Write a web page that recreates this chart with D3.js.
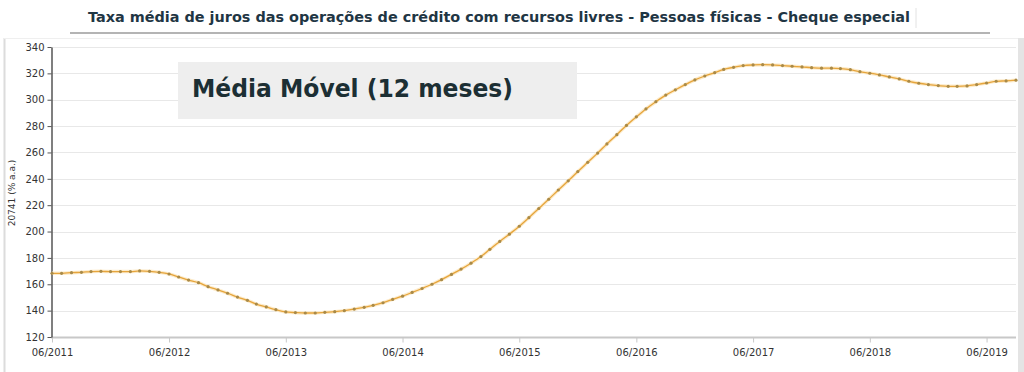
<!DOCTYPE html>
<html>
<head>
<meta charset="utf-8">
<script src="https://cdn.jsdelivr.net/npm/d3@7"></script>
<style>
  html, body { margin: 0; padding: 0; background: #fff; }
  svg { display: block; }
</style>
</head>
<body>
<svg id="chart" width="1024" height="372"></svg>
<script>
'use strict';

// Média móvel de 12 meses, mensal, 06/2011 a 09/2019 (% a.a.)
var START_MONTH = new Date(2011, 5, 1);
var VALUES = [
  168.3, 168.3, 168.8, 169.1, 169.6, 169.8, 169.6, 169.6, 169.6, 170.1, 169.8, 169.1,
  167.8, 165.5, 163.2, 161.2, 158.2, 155.7, 153.2, 150.3, 147.8, 145.0, 142.8, 140.7,
  139.0, 138.5, 138.2, 138.2, 138.7, 139.2, 140.0, 141.2, 142.5, 144.0, 146.0, 148.5,
  151.0, 153.8, 156.8, 160.0, 163.5, 167.5, 171.5, 176.0, 181.0, 186.5, 192.5, 198.0,
  204.0, 210.5, 217.5, 224.5, 231.5, 238.5, 245.5, 252.5, 259.5, 266.5, 273.5, 280.5,
  287.0, 293.0, 298.5, 303.5, 307.5, 311.5, 315.0, 318.0, 320.5, 323.0, 324.6, 325.9,
  326.4, 326.6, 326.4, 325.9, 325.4, 324.9, 324.3, 323.9, 323.9, 323.6, 322.8, 321.3,
  320.1, 318.8, 317.3, 315.8, 314.0, 312.5, 311.5, 310.7, 310.2, 310.2, 310.5, 311.5,
  312.7, 314.0, 314.3, 314.8
];
var Y_TICKS = [120, 140, 160, 180, 200, 220, 240, 260, 280, 300, 320, 340];
var X_TICKS = ['06/2011', '06/2012', '06/2013', '06/2014', '06/2015', '06/2016', '06/2017', '06/2018', '06/2019'];

var TITLE = 'Taxa média de juros das operações de crédito com recursos livres - Pessoas físicas - Cheque especial';
var NOTE = 'Média Móvel (12 meses)';
var Y_LABEL = '20741 (% a.a.)';

(function draw() {
  var svg = d3.select('#chart');
  var font = '"DejaVu Sans", Verdana, sans-serif';
  var parse = d3.timeParse('%m/%Y');

  var data = VALUES.map(function (v, i) {
    return { date: d3.timeMonth.offset(START_MONTH, i), value: v };
  });

  var plot = { left: 51, right: 1016, top: 47, bottom: 337 };
  var x = d3.scaleTime()
    .domain([START_MONTH, d3.timeMonth.offset(START_MONTH, VALUES.length - 1)])
    .range([52, plot.right]);
  var y = d3.scaleLinear().domain([120, 340]).range([plot.bottom, plot.top]);

  // header
  svg.append('text')
    .attr('x', 88).attr('y', 22)
    .attr('textLength', 822).attr('lengthAdjust', 'spacingAndGlyphs')
    .style('font-family', font).style('font-weight', 'bold').style('font-size', '13.5px')
    .style('fill', '#1f3644')
    .text(TITLE);
  svg.append('line')
    .attr('x1', 70).attr('x2', 990).attr('y1', 33).attr('y2', 33)
    .style('stroke', '#b4b4b4').style('stroke-width', 2);
  svg.append('line')
    .attr('x1', 916).attr('x2', 916).attr('y1', 8).attr('y2', 28)
    .style('stroke', '#e2e2e2').style('stroke-width', 1);

  // panel frame
  svg.append('line').attr('x1', 4.5).attr('x2', 4.5).attr('y1', 38).attr('y2', 372)
    .style('stroke', '#dcdcdc').style('stroke-width', 2);
  svg.append('line').attr('x1', 4).attr('x2', 1018).attr('y1', 38.5).attr('y2', 38.5)
    .style('stroke', '#efefef').style('stroke-width', 1);
  svg.append('rect').attr('x', 1018).attr('y', 38).attr('width', 6).attr('height', 334)
    .style('fill', '#e4e4e4');

  // gridlines
  svg.append('g').selectAll('line').data(Y_TICKS.slice(1)).enter().append('line')
    .attr('x1', plot.left).attr('x2', plot.right)
    .attr('y1', function (d) { return Math.round(y(d)) + 0.5; })
    .attr('y2', function (d) { return Math.round(y(d)) + 0.5; })
    .style('stroke', '#e8e8e8').style('stroke-width', 1);

  // x axis
  var xAxis = d3.axisBottom(x)
    .tickValues(X_TICKS.map(function (t) { return parse(t); }))
    .tickFormat(d3.timeFormat('%m/%Y'))
    .tickSize(5).tickPadding(6).tickSizeOuter(0);
  var gx = svg.append('g').attr('transform', 'translate(0,' + (plot.bottom + 0.5) + ')').call(xAxis);
  gx.select('.domain').attr('d', 'M' + plot.left + ',0H' + plot.right)
    .style('stroke', '#c8c8c8').style('stroke-width', 2);
  gx.selectAll('.tick line').style('stroke', '#c8c8c8');
  gx.selectAll('.tick text')
    .style('font-family', font).style('font-size', '10px').style('fill', '#333');

  // y axis
  var yAxis = d3.axisLeft(y).tickValues(Y_TICKS).tickSize(4).tickPadding(3).tickSizeOuter(0);
  var gy = svg.append('g').attr('transform', 'translate(' + (plot.left + 0.5) + ',0)').call(yAxis);
  gy.select('.domain').style('stroke', '#555').style('stroke-width', 1.5);
  gy.selectAll('.tick line').style('stroke', '#555');
  gy.selectAll('.tick text')
    .style('font-family', font).style('font-size', '10px').style('fill', '#333');

  svg.append('text')
    .attr('transform', 'translate(15,193) rotate(-90)')
    .attr('text-anchor', 'middle')
    .style('font-family', font).style('font-size', '9px').style('fill', '#333')
    .text(Y_LABEL);

  // annotation box
  svg.append('rect').attr('x', 178).attr('y', 62).attr('width', 399).attr('height', 57)
    .style('fill', '#eeeeee');
  svg.append('text')
    .attr('x', 192).attr('y', 97)
    .attr('textLength', 321).attr('lengthAdjust', 'spacingAndGlyphs')
    .style('font-family', font).style('font-weight', 'bold').style('font-size', '25px')
    .style('fill', '#1c2f34')
    .text(NOTE);

  // series
  var line = d3.line()
    .x(function (d) { return x(d.date); })
    .y(function (d) { return y(d.value); })
    .curve(d3.curveMonotoneX);
  svg.append('path').datum(data).attr('d', line)
    .style('fill', 'none').style('stroke', '#fcebcb').style('stroke-width', 3.5);
  svg.append('path').datum(data).attr('d', line)
    .style('fill', 'none').style('stroke', '#e6a53c').style('stroke-width', 1.3);
  svg.append('g').selectAll('circle').data(data).enter().append('circle')
    .attr('cx', function (d) { return x(d.date); })
    .attr('cy', function (d) { return y(d.value); })
    .attr('r', 1.6)
    .style('fill', '#a98a48');
})();
</script>
</body>
</html>
